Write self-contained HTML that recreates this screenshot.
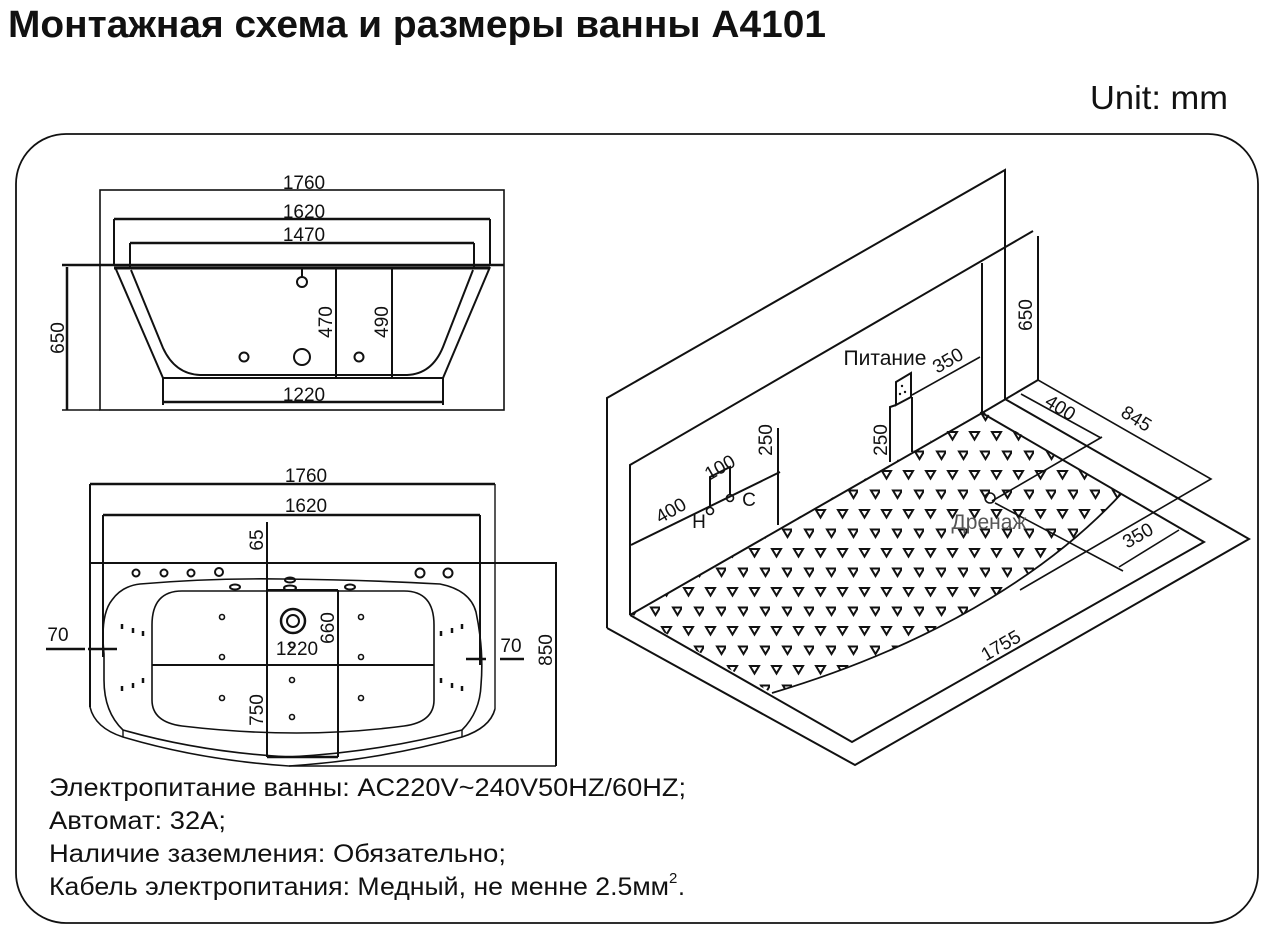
<!DOCTYPE html>
<html><head><meta charset="utf-8"><style>
html,body{margin:0;padding:0;background:#fff;}
svg{display:block;}
text{font-family:"Liberation Sans",sans-serif;fill:#111;}
</style></head><body>
<svg width="1280" height="930" viewBox="0 0 1280 930" xmlns="http://www.w3.org/2000/svg">
<defs>
<pattern id="tri" x="0" y="0" width="22" height="39" patternUnits="userSpaceOnUse">
<path d="M2,3 L11,3 L6.5,10.5 Z" fill="none" stroke="#111" stroke-width="2"/>
<path d="M13,22.5 L22,22.5 L17.5,30 Z" fill="none" stroke="#111" stroke-width="2"/>
</pattern>
</defs>
<text x="8" y="37" font-size="38" font-weight="bold" textLength="818" lengthAdjust="spacingAndGlyphs">Монтажная схема и размеры ванны A4101</text>
<text x="1090" y="109" font-size="33" textLength="138" lengthAdjust="spacingAndGlyphs">Unit: mm</text>
<rect x="16" y="134" width="1242" height="789" rx="50" ry="50" fill="none" stroke="#111" stroke-width="1.8"/>

<g stroke="#111" fill="none" stroke-width="2">
<rect x="100" y="190" width="404" height="220" stroke-width="1.6"/>
<line x1="62" y1="265" x2="504" y2="265" stroke-width="2.5"/>
<line x1="114" y1="219" x2="490" y2="219" stroke-width="2.5"/>
<line x1="114" y1="219" x2="114" y2="266"/><line x1="490" y1="219" x2="490" y2="266"/>
<line x1="130" y1="243" x2="474" y2="243" stroke-width="2.5"/>
<line x1="130" y1="243" x2="130" y2="268"/><line x1="474" y1="243" x2="474" y2="268"/>
<line x1="114" y1="268" x2="490" y2="268" stroke-width="3"/>
<path d="M115,267 L163,378 L443,378 L490,267"/>
<path d="M131,270 L163,348 Q175,374 200,375 L407,375 Q432,374 443,347 L473,270"/>
<line x1="163" y1="378" x2="163" y2="405"/><line x1="443" y1="378" x2="443" y2="405"/>
<line x1="163" y1="402" x2="443" y2="402" stroke-width="2.5"/>
<line x1="336" y1="268" x2="336" y2="377"/><line x1="392" y1="268" x2="392" y2="377"/>
<line x1="302" y1="268" x2="302" y2="277"/>
<circle cx="302" cy="282" r="5"/><circle cx="244" cy="357" r="4.5"/><circle cx="302" cy="357" r="8"/><circle cx="359" cy="357" r="4.5"/>
<line x1="67" y1="267" x2="67" y2="410" stroke-width="2.5"/>
<line x1="62" y1="410" x2="100" y2="410" stroke-width="1.4"/>

<line x1="90" y1="484" x2="495" y2="484" stroke-width="2.5"/>
<line x1="90" y1="484" x2="90" y2="707"/><line x1="495" y1="484" x2="495" y2="709" stroke-width="1.4"/>
<line x1="103" y1="515" x2="480" y2="515" stroke-width="2.5"/>
<line x1="103" y1="515" x2="103" y2="657"/><line x1="480" y1="515" x2="480" y2="665"/>
<line x1="90" y1="563" x2="557" y2="563"/>
<line x1="556" y1="563" x2="556" y2="766"/>
<line x1="289" y1="766" x2="556" y2="766" stroke-width="1.4"/>
<line x1="267" y1="522" x2="267" y2="757"/>
<line x1="338" y1="590" x2="338" y2="757"/>
<line x1="267" y1="590" x2="338" y2="590"/>
<line x1="152" y1="665" x2="434" y2="665"/>
<line x1="267" y1="757" x2="338" y2="757" stroke-width="2.5"/>
<path d="M90,707 Q95,728 123,737 Q200,760 289,766 Q380,760 462,737 Q490,728 495,709" stroke-width="1.6"/>
<path d="M104,654 Q100,615 112,600 Q122,586 140,584 Q210,578 282,579 Q370,580 440,584 Q470,590 476,612 Q484,650 481,685 Q480,712 462,730 Q380,752 289,757 Q200,752 123,730 Q104,712 104,680 Z" stroke-width="1.6"/>
<line x1="123" y1="730" x2="123" y2="737" stroke-width="1.4"/><line x1="462" y1="730" x2="462" y2="737" stroke-width="1.4"/>
<path d="M182,591 L404,591 Q434,591 434,625 L434,700 Q434,722 404,726 Q300,740 182,726 Q152,722 152,700 L152,625 Q152,591 182,591 Z" stroke-width="1.6"/>
<circle cx="136" cy="573" r="3.5"/><circle cx="164" cy="573" r="3.5"/><circle cx="191" cy="573" r="3.5"/><circle cx="219" cy="572" r="4"/>
<circle cx="420" cy="573" r="4.5"/><circle cx="448" cy="573" r="4.5"/>
<ellipse cx="235" cy="587" rx="5" ry="2.5"/><ellipse cx="290" cy="580" rx="5" ry="2.5"/><ellipse cx="290" cy="588" rx="6" ry="2.5"/><ellipse cx="350" cy="587" rx="5" ry="2.5"/>
<circle cx="293" cy="621" r="12" stroke-width="2.5"/><circle cx="293" cy="621" r="6"/>
<g stroke-width="1.6">
<circle cx="222" cy="617" r="2.5"/><circle cx="222" cy="657" r="2.5"/><circle cx="222" cy="698" r="2.5"/>
<circle cx="361" cy="617" r="2.5"/><circle cx="361" cy="657" r="2.5"/><circle cx="361" cy="698" r="2.5"/>
<circle cx="292" cy="645" r="2.5"/><circle cx="292" cy="680" r="2.5"/><circle cx="292" cy="717" r="2.5"/>
</g>
<g stroke-width="2.5">
<line x1="122" y1="624" x2="122" y2="629"/><line x1="133" y1="628" x2="133" y2="633"/><line x1="143" y1="631" x2="143" y2="636"/>
<line x1="122" y1="686" x2="122" y2="691"/><line x1="133" y1="683" x2="133" y2="688"/><line x1="143" y1="678" x2="143" y2="683"/>
<line x1="462" y1="624" x2="462" y2="629"/><line x1="452" y1="628" x2="452" y2="633"/><line x1="441" y1="631" x2="441" y2="636"/>
<line x1="462" y1="686" x2="462" y2="691"/><line x1="452" y1="683" x2="452" y2="688"/><line x1="441" y1="678" x2="441" y2="683"/>
</g>
<line x1="46" y1="649" x2="85" y2="649" stroke-width="2.5"/><line x1="88" y1="649" x2="117" y2="649" stroke-width="2.5"/>
<line x1="466" y1="659" x2="486" y2="659" stroke-width="2.5"/><line x1="500" y1="659" x2="524" y2="659" stroke-width="2.5"/>
</g>

<g font-size="19" text-anchor="middle">
<text x="304" y="189">1760</text><text x="304" y="218">1620</text><text x="304" y="241">1470</text><text x="304" y="401">1220</text>
<text transform="translate(332,322) rotate(-90)">470</text>
<text transform="translate(388,322) rotate(-90)">490</text>
<text transform="translate(64,338) rotate(-90)">650</text>
<text x="306" y="482">1760</text><text x="306" y="512">1620</text>
<text transform="translate(263,540) rotate(-90)">65</text>
<text transform="translate(334,628) rotate(-90)">660</text>
<text x="297" y="655">1220</text>
<text transform="translate(263,710) rotate(-90)">750</text>
<text transform="translate(552,650) rotate(-90)">850</text>
<text x="58" y="641">70</text><text x="511" y="652">70</text>
</g>

<path d="M631,614 L982,411 L1121,494 C1060,560 950,640 772,693 Z" fill="url(#tri)"/>
<g stroke="#111" fill="none" stroke-width="2">
<path d="M607,628 L607,398 L1005,170 L1005,399"/>
<path d="M630,615 L630,465 L1033,231"/>
<line x1="982" y1="263" x2="982" y2="413"/>
<line x1="1038" y1="236" x2="1038" y2="380"/>
<path d="M607,628 L855,765 L1249,539 L1005,399"/>
<path d="M630,615 L852,742 L1204,542 L982,413 L630,615"/>
<line x1="982" y1="413" x2="1038" y2="380"/>
<path d="M1038,380 L1211,479 L1020,590" stroke-width="1.6"/>
<line x1="1021" y1="394" x2="1101" y2="438" stroke-width="1.6"/>
<line x1="992" y1="501" x2="1102" y2="437" stroke-width="1.6"/>
<line x1="995" y1="503" x2="1123" y2="571" stroke-width="1.6"/>
<line x1="1119" y1="567" x2="1179" y2="530" stroke-width="1.6"/>
<path d="M1121,494 C1060,560 950,640 772,693" stroke-width="1.8"/>
<line x1="631" y1="545" x2="780" y2="472"/>
<line x1="778" y1="428" x2="778" y2="525"/>
<path d="M710,506 L710,477 L730,467 L730,495"/>
<circle cx="710" cy="511" r="3.5" stroke-width="1.6"/><circle cx="730" cy="498" r="3.5" stroke-width="1.6"/>
<path d="M896,382 L911,373 L911,397 L896,405 Z"/>
<path d="M890,462 L890,407 L896,405"/>
<line x1="912" y1="397" x2="912" y2="452"/>
<line x1="912" y1="395" x2="980" y2="357" stroke-width="1.6"/>
<circle cx="990" cy="498" r="5" stroke-width="1.6"/>
</g>
<g fill="#111"><circle cx="902" cy="386" r="1.2"/><circle cx="905" cy="392" r="1.2"/><circle cx="900" cy="394" r="1.2"/></g>
<g font-size="19" text-anchor="middle">
<text x="885" y="365" font-size="21">Питание</text>
<text transform="translate(951,366) rotate(-30)">350</text>
<text transform="translate(1032,315) rotate(-90)">650</text>
<text transform="translate(1057,413) rotate(32)">400</text>
<text transform="translate(1133,424) rotate(32)">845</text>
<text transform="translate(772,440) rotate(-90)">250</text>
<text transform="translate(887,440) rotate(-90)">250</text>
<text transform="translate(723,473) rotate(-30)">100</text>
<text transform="translate(674,516) rotate(-30)">400</text>
<text x="699" y="528">H</text><text x="749" y="506">C</text>
<text x="989" y="529" font-size="21" style="fill:#555">Дренаж</text>
<text transform="translate(1141,541) rotate(-30)">350</text>
<text transform="translate(1004,651) rotate(-30)">1755</text>
</g>

<g font-size="25">
<text x="49" y="796" textLength="637" lengthAdjust="spacingAndGlyphs">Электропитание ванны: AC220V~240V50HZ/60HZ;</text>
<text x="49" y="829" textLength="177" lengthAdjust="spacingAndGlyphs">Автомат: 32A;</text>
<text x="49" y="862" textLength="457" lengthAdjust="spacingAndGlyphs">Наличие заземления: Обязательно;</text>
<text x="49" y="895" textLength="620" lengthAdjust="spacingAndGlyphs">Кабель электропитания: Медный, не менне 2.5мм</text>
<text x="669" y="883" font-size="15">2</text><text x="678" y="895">.</text>
</g>
</svg>
</body></html>
